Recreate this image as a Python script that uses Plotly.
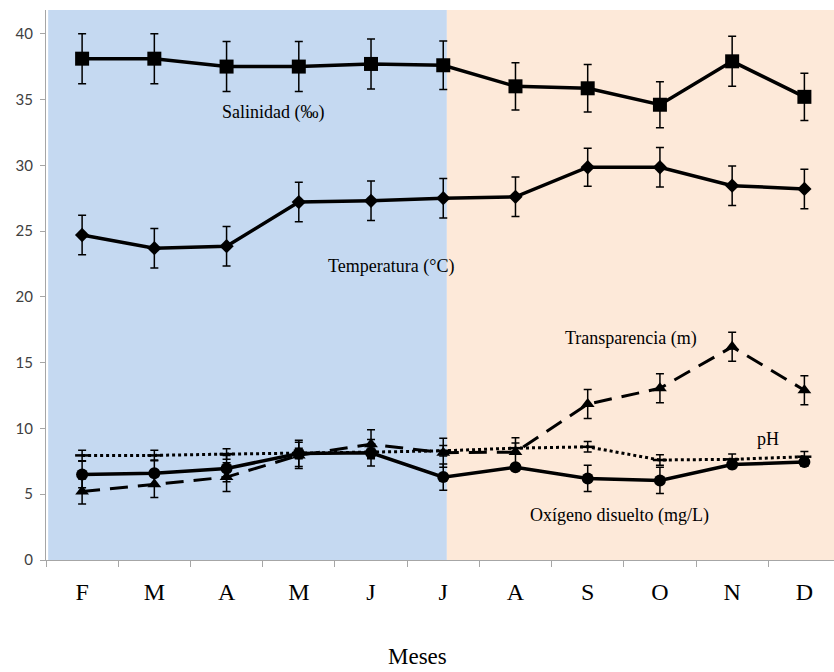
import plotly.graph_objects as go

meses = ["F", "M", "A", "M", "J", "J", "A", "S", "O", "N", "D"]
salinidad = [38.1, 38.1, 37.5, 37.5, 37.7, 37.6, 36.0, 35.85, 34.6, 37.9, 35.2]
salinidad_err = [1.9, 1.9, 1.9, 1.9, 1.9, 1.85, 1.8, 1.8, 1.75, 1.9, 1.8]
temperatura = [24.7, 23.7, 23.85, 27.2, 27.3, 27.5, 27.6, 29.85, 29.85, 28.45, 28.2]
temperatura_err = [1.5, 1.5, 1.5, 1.5, 1.5, 1.5, 1.5, 1.45, 1.5, 1.5, 1.5]
transparencia = [5.2, 5.75, 6.3, 7.95, 8.8, 8.15, 8.2, 11.85, 13.05, 16.2, 12.9]
transparencia_err = [0.95, 1.0, 1.1, 1.0, 1.1, 1.1, 1.1, 1.1, 1.1, 1.1, 1.1]
ph = [7.95, 7.95, 8.05, 8.1, 8.2, 8.3, 8.5, 8.6, 7.6, 7.65, 7.85]
ph_err = [0.4, 0.4, 0.4, 0.4, 0.4, 0.4, 0.4, 0.4, 0.4, 0.4, 0.4]
oxigeno = [6.5, 6.6, 6.95, 8.1, 8.15, 6.3, 7.05, 6.2, 6.05, 7.25, 7.45]
oxigeno_err = [1.0, 1.0, 1.0, 1.0, 1.0, 1.0, 0.0, 1.0, 1.0, 0.3, 0.3]
etiquetas = [
    ("Salinidad (‰)", 2.64, 34.0),
    ("Temperatura (°C)", 4.27, 22.3),
    ("Transparencia (m)", 7.6, 16.85),
    ("pH", 9.5, 9.2),
    ("Oxígeno disuelto (mg/L)", 7.44, 3.4),
]

x = list(range(len(meses)))

fig = go.Figure()

def err(vals):
    return dict(type="data", array=vals, visible=True, color="black", thickness=1.5, width=4)

fig.add_trace(go.Scatter(x=x, y=salinidad, mode="lines+markers",
                         line=dict(color="black", width=3.5),
                         marker=dict(symbol="square", size=14, color="black"),
                         error_y=err(salinidad_err)))
fig.add_trace(go.Scatter(x=x, y=temperatura, mode="lines+markers",
                         line=dict(color="black", width=3.5),
                         marker=dict(symbol="diamond", size=11, color="black"),
                         error_y=err(temperatura_err)))
fig.add_trace(go.Scatter(x=x, y=ph, mode="lines+markers",
                         line=dict(color="black", width=3, dash="dot"),
                         marker=dict(symbol="line-ew", size=10, color="black",
                                     line=dict(color="black", width=2.5)),
                         error_y=err(ph_err)))
fig.add_trace(go.Scatter(x=x, y=oxigeno, mode="lines+markers",
                         line=dict(color="black", width=3.5),
                         marker=dict(symbol="circle", size=12, color="black"),
                         error_y=err(oxigeno_err)))
fig.add_trace(go.Scatter(x=x, y=transparencia, mode="lines+markers",
                         line=dict(color="black", width=3, dash="18px,10px"),
                         marker=dict(symbol="triangle-up", size=12, color="black"),
                         error_y=err(transparencia_err)))

fig.add_shape(type="rect", xref="x", yref="paper", x0=-0.47, x1=5.05, y0=0, y1=1,
              fillcolor="#C5D9F1", line=dict(width=0), layer="below")
fig.add_shape(type="rect", xref="x", yref="paper", x0=5.05, x1=10.5, y0=0, y1=1,
              fillcolor="#FDE9D9", line=dict(width=0), layer="below")

for txt, ax, ay in etiquetas:
    fig.add_annotation(x=ax, y=ay, text=txt, showarrow=False, xref="x", yref="y",
                       font=dict(family="Liberation Serif", size=18, color="black"))

fig.add_annotation(x=0.472, y=-0.176, xref="paper", yref="paper", text="Meses",
                   showarrow=False, yanchor="middle",
                   font=dict(family="Liberation Serif", size=23, color="black"))

fig.update_xaxes(range=[-0.5, 10.41], tickmode="array", tickvals=x, ticktext=meses,
                 ticks="", showgrid=False, zeroline=False,
                 showline=True, linecolor="#A6A6A6", linewidth=1.2,
                 tickfont=dict(family="Liberation Serif", size=24, color="black"),
                 minor=dict(tickmode="array", tickvals=[i - 0.5 for i in range(12)],
                            ticks="outside", ticklen=6, tickcolor="#A6A6A6", tickwidth=1.2),
                 ticklabelstandoff=10)
fig.update_yaxes(range=[0, 41.8], tickmode="array", tickvals=list(range(0, 41, 5)),
                 ticks="outside", ticklen=5, tickcolor="#A6A6A6", tickwidth=1.2,
                 showgrid=False, zeroline=False,
                 showline=True, linecolor="#A6A6A6", linewidth=1.2,
                 ticklabelstandoff=4,
                 tickfont=dict(family="Lato", size=15, color="#404040"))

fig.update_layout(width=834, height=672, margin=dict(l=46, r=0, t=10, b=112),
                  paper_bgcolor="white", plot_bgcolor="white", showlegend=False)

fig.write_html("out.html")
